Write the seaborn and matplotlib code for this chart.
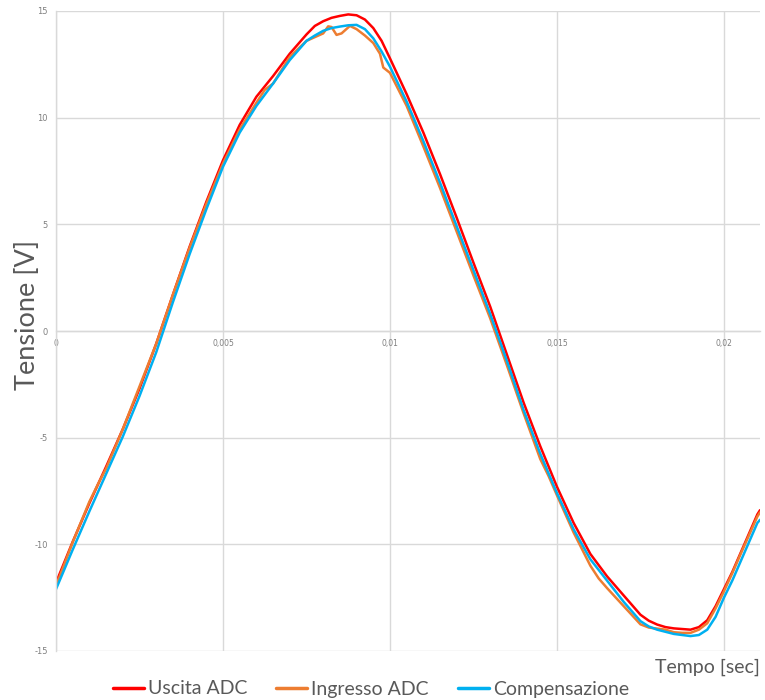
import numpy as np
import pandas as pd
import matplotlib
matplotlib.use("Agg")
import matplotlib.pyplot as plt
import seaborn as sns

# ---- data (time in ms, voltage in V) ----
t_uscita = [0.0, 0.5, 1.0, 1.5, 2.0, 2.5, 3.0, 3.5, 4.0, 4.5, 5.0, 5.5, 6.0, 6.5, 7.0,
            7.5, 7.75, 8.0, 8.25, 8.5, 8.75, 9.0, 9.25, 9.5, 9.75, 10.0, 10.5, 11.0,
            11.5, 12.0, 12.5, 13.0, 13.5, 14.0, 14.5, 15.0, 15.5, 16.0, 16.5, 17.0,
            17.5, 17.75, 18.0, 18.25, 18.5, 18.75, 19.0, 19.25, 19.5, 19.75, 20.0,
            20.25, 20.5, 21.0, 21.08]
v_uscita = [-11.8, -9.88, -8.07, -6.36, -4.6, -2.7, -0.6, 1.7, 3.95, 6.05, 8.0, 9.66,
            10.98, 11.95, 13.0, 13.9, 14.3, 14.52, 14.68, 14.77, 14.84, 14.8, 14.6,
            14.2, 13.6, 12.78, 11.1, 9.3, 7.35, 5.3, 3.2, 1.15, -1.1, -3.35, -5.4,
            -7.3, -9.0, -10.45, -11.5, -12.4, -13.3, -13.58, -13.76, -13.88, -13.94,
            -13.97, -14.0, -13.88, -13.56, -12.9, -12.1, -11.3, -10.4, -8.6, -8.4]

t_ingresso = [0.0, 0.5, 1.0, 1.25, 1.5, 2.0, 2.5, 3.0, 3.5, 4.0, 4.5, 5.0, 5.5, 6.0,
              6.25, 6.5, 7.0, 7.5, 8.0, 8.15, 8.25, 8.4, 8.55, 8.8, 9.0, 9.25, 9.5, 9.7,
              9.8, 10.0, 10.5, 11.0, 11.5, 12.0, 12.5, 13.0, 13.5, 14.0, 14.5, 14.75,
              15.0, 15.5, 16.0, 16.25, 16.5, 17.0, 17.5, 17.75, 18.0, 18.25, 18.5,
              18.75, 19.0, 19.25, 19.5, 19.75, 20.0, 20.25, 20.5, 21.0, 21.08]
v_ingresso = [-11.95, -9.9, -8.0, -7.2, -6.45, -4.6, -2.6, -0.6, 1.7, 3.9, 5.95, 7.85,
              9.45, 10.7, 11.3, 11.6, 12.85, 13.6, 13.95, 14.28, 14.25, 13.88, 13.95,
              14.3, 14.15, 13.85, 13.5, 13.0, 12.35, 12.1, 10.55, 8.65, 6.7, 4.65, 2.6,
              0.6, -1.6, -3.85, -6.0, -6.8, -7.7, -9.45, -11.0, -11.6, -12.05, -12.9,
              -13.75, -13.9, -13.95, -14.0, -14.12, -14.15, -14.15, -14.0, -13.7, -13.0,
              -12.2, -11.35, -10.45, -8.7, -8.5]

t_comp = [0.0, 0.5, 1.0, 1.5, 2.0, 2.5, 3.0, 3.5, 4.0, 4.5, 5.0, 5.5, 6.0, 6.5, 7.0,
          7.5, 7.75, 8.0, 8.25, 8.5, 8.75, 9.0, 9.25, 9.5, 9.75, 10.0, 10.5, 11.0,
          11.5, 12.0, 12.5, 13.0, 13.5, 14.0, 14.5, 15.0, 15.5, 16.0, 16.5, 17.0,
          17.5, 17.75, 18.0, 18.25, 18.5, 18.75, 19.0, 19.25, 19.5, 19.75, 20.0,
          20.25, 20.5, 21.0, 21.08]
v_comp = [-12.1, -10.25, -8.45, -6.7, -4.95, -3.05, -1.0, 1.35, 3.6, 5.7, 7.7, 9.3,
          10.55, 11.6, 12.7, 13.6, 13.85, 14.07, 14.2, 14.27, 14.33, 14.35, 14.15,
          13.72, 13.1, 12.39, 10.75, 8.9, 6.95, 4.9, 2.85, 0.8, -1.4, -3.7, -5.75,
          -7.6, -9.3, -10.7, -11.7, -12.7, -13.6, -13.85, -14.0, -14.1, -14.2, -14.25,
          -14.3, -14.25, -14.0, -13.4, -12.5, -11.7, -10.8, -9.0, -8.85]

series_names = ["Uscita ADC", "Ingresso ADC", "Compensazione"]
series_colors = ["#FF0000", "#ED7D31", "#00B0F0"]

x_ticks = [0, 0.005, 0.01, 0.015, 0.02]
x_tick_labels = ["0", "0,005", "0,01", "0,015", "0,02"]
y_ticks = [-15, -10, -5, 0, 5, 10, 15]
y_tick_labels = ["-15", "-10", "-5", "0", "5", "10", "15"]

# ---- build long table ----
frames = []
for name, t, v in zip(series_names,
                      [t_uscita, t_ingresso, t_comp],
                      [v_uscita, v_ingresso, v_comp]):
    frames.append(pd.DataFrame({"Tempo": np.array(t) / 1000.0,
                                "Tensione": v, "Serie": name}))
df = pd.concat(frames, ignore_index=True)

sns.set_theme(style="white")
plt.rcParams["font.family"] = ["Lato", "DejaVu Sans"]

fig = plt.figure(figsize=(7.65, 7.0), dpi=100)
ax = fig.add_axes([56 / 765, 1 - 651 / 700, (760 - 56) / 765, (651 - 11) / 700])

grid_c = "#D9D9D9"
ax.set_xlim(0, 0.02108)
ax.set_ylim(-15, 15)
ax.set_xticks(x_ticks)
ax.set_xticklabels(x_tick_labels)
ax.set_yticks(y_ticks)
ax.set_yticklabels(y_tick_labels)
ax.grid(True, color=grid_c, linewidth=1.0)
ax.set_axisbelow(True)

sns.lineplot(data=df, x="Tempo", y="Tensione", hue="Serie",
             hue_order=series_names, palette=series_colors,
             estimator=None, sort=False, linewidth=1.8, ax=ax, legend=True)

for s in ["top", "right"]:
    ax.spines[s].set_visible(False)
ax.spines["left"].set_color(grid_c)
ax.spines["left"].set_linewidth(1.0)
ax.spines["bottom"].set_position(("data", 0))
ax.spines["bottom"].set_color(grid_c)
ax.spines["bottom"].set_linewidth(1.0)
ax.spines["bottom"].set_zorder(0.5)

ax.tick_params(axis="x", length=0, pad=6, labelsize=5.5, labelcolor="#7F7F7F")
ax.tick_params(axis="y", length=0, pad=6, labelsize=6, labelcolor="#7F7F7F")
for lbl in ax.get_xticklabels() + ax.get_yticklabels():
    lbl.set_family(["DejaVu Sans"])

ax.set_xlabel("")
ax.set_ylabel("")
fig.text(28 / 765, 1 - 315 / 700, "Tensione [V]", rotation=90, ha="center",
         va="center", fontsize=19.5, color="#595959")
fig.text(760 / 765, 1 - 667 / 700, "Tempo [sec]", ha="right", va="center",
         fontsize=14, color="#595959")

handles, labels = ax.get_legend_handles_labels()
ax.legend(handles=handles, labels=labels, loc="center",
          bbox_to_anchor=(371 / 765, 1 - 689 / 700), bbox_transform=fig.transFigure,
          ncol=3, frameon=False, fontsize=14, handlelength=1.6, handletextpad=0.2,
          columnspacing=1.5, labelcolor="#595959")
for line in ax.get_legend().get_lines():
    line.set_linewidth(2.5)

fig.savefig("out.png", dpi=100)
